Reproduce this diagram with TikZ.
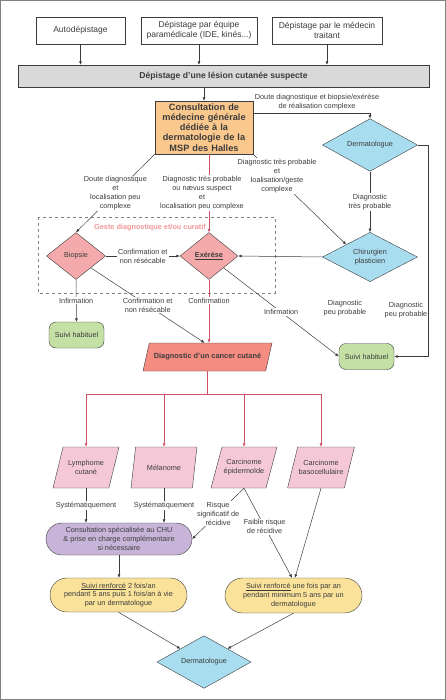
\documentclass[tikz,border=0pt]{standalone}
\usepackage{fontspec}
\setmainfont{Liberation Sans}
\usetikzlibrary{shapes.geometric, shapes.misc, arrows.meta}
\definecolor{orangeC}{RGB}{250,199,140}
\definecolor{grisC}{RGB}{217,217,217}
\definecolor{bleuC}{RGB}{168,221,240}
\definecolor{roseC}{RGB}{244,170,170}
\definecolor{saumonC}{RGB}{245,140,130}
\definecolor{roseclair}{RGB}{245,200,216}
\definecolor{vertC}{RGB}{197,224,165}
\definecolor{violetC}{RGB}{200,180,216}
\definecolor{jauneC}{RGB}{250,226,155}
\definecolor{rougeL}{RGB}{208,80,104}
\definecolor{titreG}{RGB}{240,150,150}
\definecolor{trait}{RGB}{60,60,60}

\begin{document}
\begin{tikzpicture}[x=1pt, y=-1pt, >={Latex[length=3.5pt,width=3pt]},
    every node/.style={text=trait},
    txt/.style={font=\fontsize{7.3}{8.8}\selectfont, align=center},
    lbl/.style={txt, fill=white, inner sep=1pt},
    boite/.style={rectangle, draw=trait, align=center, inner sep=2pt},
    haut/.style={boite, minimum height=27pt, font=\fontsize{8.5}{9.6}\selectfont},
    losange/.style={diamond, draw=trait, txt, inner sep=0pt, fill=bleuC},
    parall/.style={trapezium, trapezium left angle=58, trapezium right angle=122,
      trapezium stretches body, draw=trait, txt, inner sep=1pt},
    stade/.style={rounded rectangle, draw=trait, txt, inner sep=1pt},
    suivi/.style={rectangle, rounded corners=7pt, draw=trait, fill=vertC, txt,
      minimum width=55pt, minimum height=26pt},
    fleche/.style={->, draw=trait, line width=0.5pt},
    rougeT/.style={draw=rougeL}]
  \useasboundingbox (0,0) rectangle (446,700);
  \draw[gray, line width=1.3pt] (0.65,0.65) rectangle (445.35,699.35);

  % Dépistage
  \node[boite, fill=grisC, minimum width=411pt, minimum height=22pt,
    font=\fontsize{8.6}{10}\selectfont\bfseries] (lesion) at (223.5,76)
    {Dépistage d’une lésion cutanée suspecte};
  \foreach \n/\x/\w/\t in {auto/80.5/89/Autodépistage,
      equipe/199/116/{Dépistage par équipe\\paramédicale (IDE, kinés...)},
      medecin/327/110/{Dépistage par le médecin\\traitant}} {
    \node[haut, minimum width=\w pt] (\n) at (\x,30.5) {\t};
    \draw[fleche] (\n.south) -- (\n.south |- lesion.north);
  }

  % Consultation MSP
  \node[boite, fill=orangeC, minimum width=98pt, minimum height=53pt, text width=92pt,
    font=\fontsize{9.2}{10.2}\selectfont\bfseries] (mg) at (204,127.5)
    {Consultation de\\médecine générale\\dédiée à la\\dermatologie de la\\MSP des Halles};
  \draw[fleche] (lesion.south -| mg.north) -- (mg.north);

  % Dermatologue et chirurgien
  \node[losange, minimum width=95pt, minimum height=40pt] (derm) at (370,145) {Dermatologue};
  \node[losange, minimum width=95pt, minimum height=40pt] (chir) at (370,257) {Chirurgien\\plasticien};
  \draw[fleche] ([yshift=14.5pt]mg.east) -| (derm.north);
  \node[txt] (l-derm) at (317,102) {Doute diagnostique et biopsie/exérèse\\de réalisation complexe};
  \draw[fleche] (derm.south) -- node[lbl] {Diagnostic\\très probable} (chir.north);

  % Geste diagnostique
  \draw[dashed, gray, line width=0.5pt] (38,217) rectangle (275,293);
  \node[font=\fontsize{7.3}{8.8}\selectfont\bfseries, text=titreG] (geste) at (150,228)
    {Geste diagnostique et/ou curatif};
  \node[losange, fill=roseC, minimum width=59pt, minimum height=47pt] (biopsie) at (76,256) {Biopsie};
  \node[losange, fill=roseC, minimum width=58pt, minimum height=47pt] (exerese) at (209,256)
    {\textbf{\underline{Exérèse}}};
  \draw[fleche] (mg.south west) -- node[lbl] {Doute diagnostique\\et\\localisation peu\\complexe} (biopsie.north);
  \draw[fleche] (mg.south east) -- (chir.north west);
  \node[lbl] (l-chir) at (277,176) {Diagnostic très probable\\et\\loalisation/geste\\complexe};
  \draw[fleche, rougeT] (mg.south -| exerese.north) -- (exerese.north);
  \node[lbl] (l-exer) at (202,193) {Diagnostic très probable\\ou nævus suspect\\et\\localisation peu complexe};
  \draw[fleche] (chir.west) -- (exerese.east);
  \draw[fleche] (biopsie.east) -- node[lbl] {Confirmation et\\non résécable} (exerese.west);

  % Suivi habituel
  \node[suivi] (suivi1) at (76.5,335) {Suivi habituel};
  \node[suivi] (suivi2) at (366.5,356.5) {Suivi habituel};
  \draw[fleche] (biopsie.south) -- node[lbl] {Infirmation} (suivi1.north);
  \draw[fleche] (exerese.south east) -- node[lbl] {Infirmation} (suivi2.west);
  \coordinate (coin) at (428,145);
  \draw[fleche] (derm.east) -- (coin) |- (suivi2.east);
  \node[txt] (peu1) at (345,308) {Diagnostic\\peu probable};
  \node[txt] (peu2) at (406,310) {Diagnostic\\peu probable};

  % Diagnostic d'un cancer
  \node[parall, fill=saumonC, trapezium left angle=55, trapezium right angle=125,
    minimum width=129pt, minimum height=28pt,
    font=\fontsize{7.4}{9}\selectfont\bfseries] (cancer) at (207.5,357)
    {Diagnostic d’un cancer cutané};
  \draw[fleche] (biopsie.south east) -- node[lbl] {Confirmation et\\non résécable} ([xshift=-3pt]cancer.north);
  \draw[fleche, rougeT] (exerese.south) -- node[lbl, pos=0.33] {Confirmation} (exerese.south |- cancer.north);

  % Types de cancer
  \foreach \n/\x/\t in {lymphome/86/{Lymphome\\cutané}, melanome/164/Mélanome,
      epider/244/{Carcinome\\épidermoïde}, baso/321/{Carcinome\\basocellulaire}} {
    \node[parall, fill=roseclair, minimum width=66pt, minimum height=41pt] (\n) at (\x,467.5) {\t};
    \draw[fleche, rougeT] (cancer.south) -- ++(0,23) -| (\n.north);
  }

  % Prise en charge
  \node[stade, fill=violetC, minimum width=148pt, minimum height=32pt] (chu) at (119,539)
    {Consultation spécialisée au CHU\\\& prise en charge complémentaire\\si nécessaire};
  \node[stade, fill=jauneC, minimum width=139pt, minimum height=34pt] (renf1) at (118.5,595)
    {\underline{Suivi renforcé} 2 fois/an\\pendant 5 ans puis 1 fois/an à vie\\par un dermatologue};
  \node[stade, fill=jauneC, minimum width=139pt, minimum height=35pt] (renf2) at (293.5,595.5)
    {\underline{Suivi renforcé} une fois par an\\pendant minimum 5 ans par un\\dermatologue};
  \node[losange, minimum width=94pt, minimum height=42pt] (derm2) at (204,662) {Dermatologue};
  \foreach \n in {lymphome, melanome} {
    \draw[fleche] (\n.south) -- node[lbl] {Systématiquement} (\n.south |- chu.north);
  }
  \draw[fleche] (epider.south) -- node[lbl] {Risque\\significatif de\\récidive} (chu.east);
  \draw[fleche] (epider.south) -- node[lbl, pos=0.43] {Faible risque\\de récidive} ([xshift=-1.5pt]renf2.north);
  \draw[fleche] (baso.south) -- ([xshift=1.5pt]renf2.north);
  \draw[fleche] (chu.south) -- (chu.south |- renf1.north);
  \draw[fleche] (renf1.south) -- (derm2.north west);
  \draw[fleche] (renf2.south) -- (derm2.north east);
\end{tikzpicture}
\end{document}
